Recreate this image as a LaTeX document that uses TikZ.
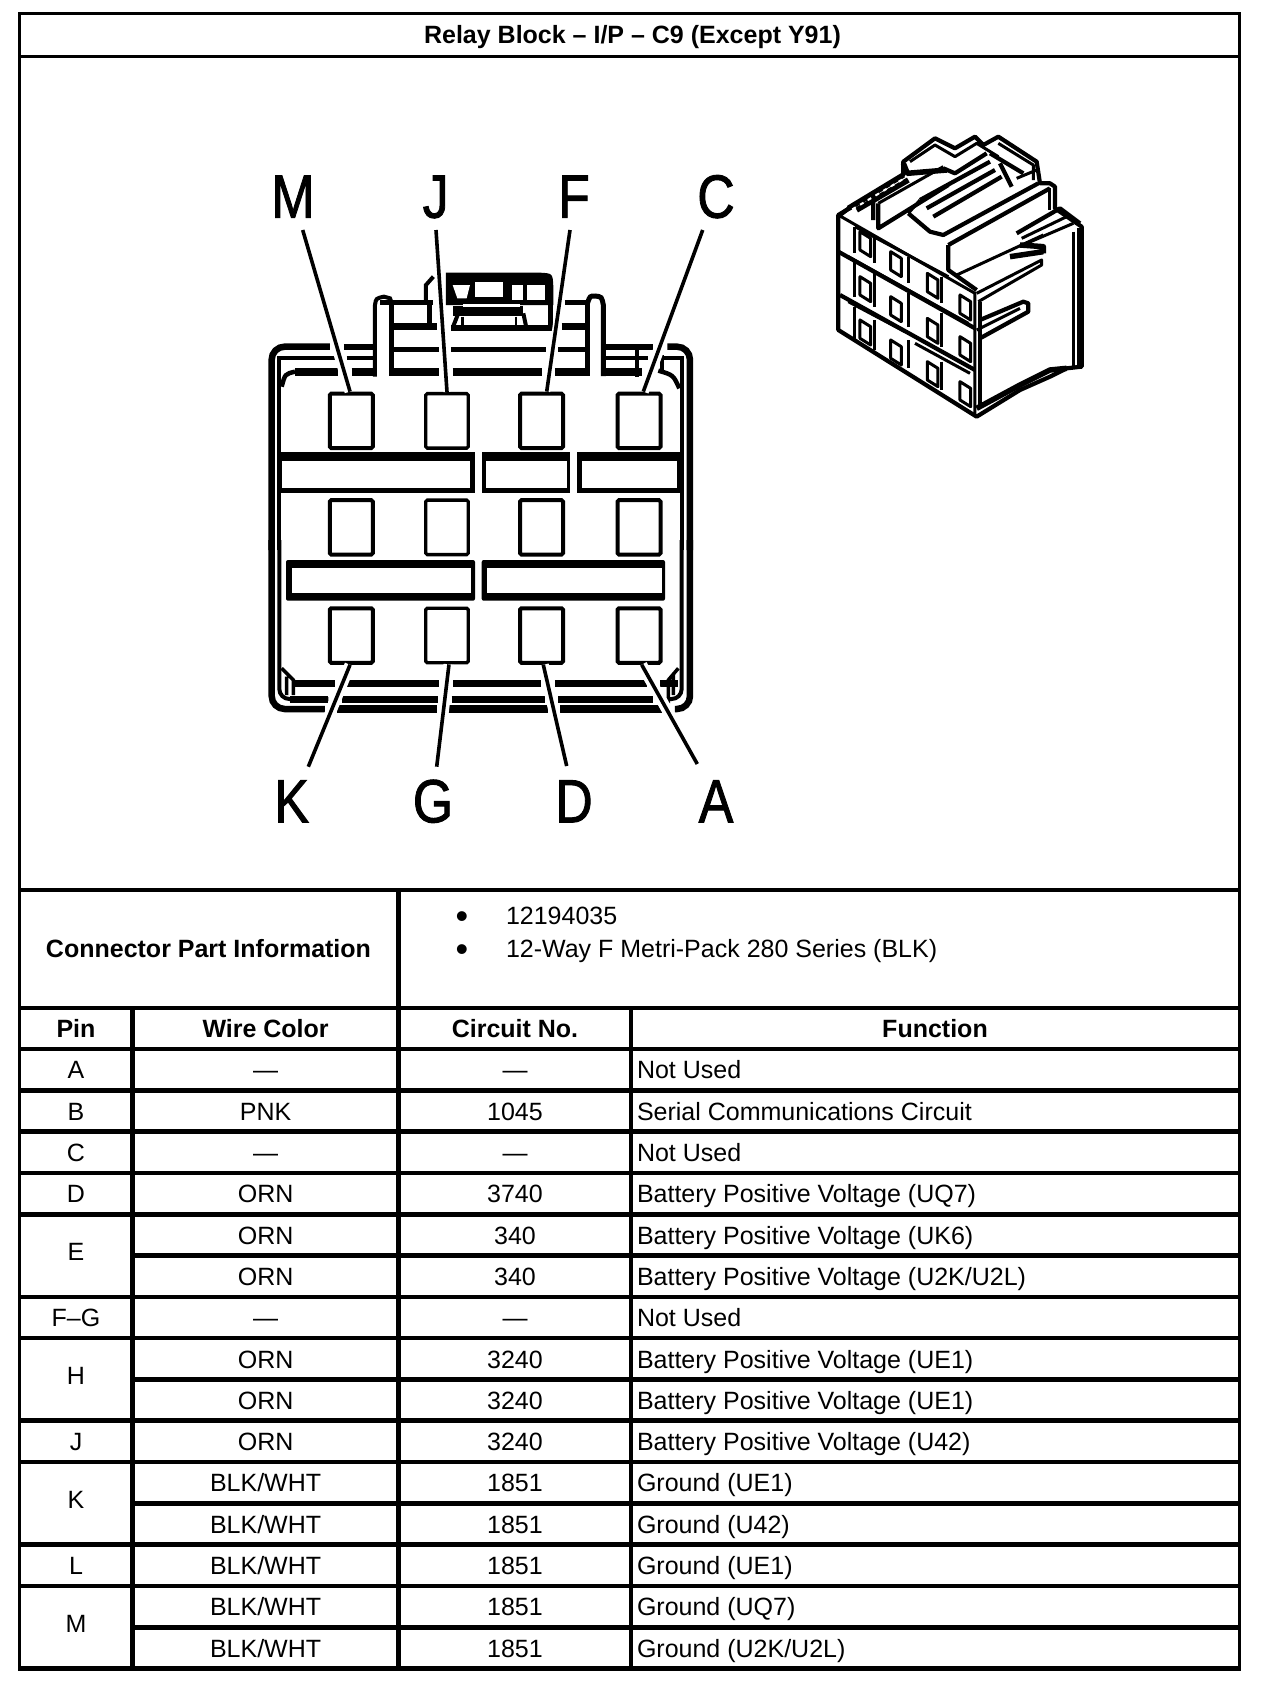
\documentclass[tikz,border=0pt]{standalone}
\usepackage{fontspec}
\setmainfont{Liberation Sans}
\newfontfamily\bigfont[FakeBold=1.6]{Liberation Sans}
\newcommand\bodyfont{\fontsize{25}{28}\selectfont}
\tikzset{
  tline/.style={line width=4.6pt,black},
  cell/.style={anchor=base,inner sep=0pt,outer sep=0pt,font=\bodyfont},
  lcell/.style={anchor=base west,inner sep=0pt,outer sep=0pt,font=\bodyfont},
  hcell/.style={anchor=base,inner sep=0pt,outer sep=0pt,font=\bodyfont\bfseries},
  biglabel/.style={anchor=base,inner sep=0pt,transform shape,xscale=.85,font=\bigfont\fontsize{61}{64}\selectfont},
  pinbox/.style={draw,line width=4pt,fill=white,rounded corners=1.5pt,inner sep=0pt,minimum width=43pt,minimum height=54.5pt},
  leader/.style={line width=3.6pt},
  halo/.style={line width=11pt,white},
  iso/.style={line width=3pt,line join=round},
  isoheavy/.style={line width=4.2pt,line join=round},
  isodark/.style={line width=5.5pt,line join=round},
}
\newcommand\rowtxt[4]{%
  \pgfmathsetmacro\ry{1049+41.3*(#1-.5)+9.3}
  \node[cell] (w#1) at (265.6,\ry) {#2};
  \node[cell] (c#1) at (515,\ry) {#3};
  \node[lcell] (f#1) at (637,\ry) {#4};
}
\newcommand\pintxt[4]{%
  \pgfmathsetmacro\ry{1049+41.3*(#2-.5)+9.3+#4}
  \node[cell] (pt#3) at (76,\ry) {#1};
}
\begin{document}
\begin{tikzpicture}[x=1pt,y=-1pt]
\useasboundingbox (0,0) rectangle (1264,1690);
\fill[white] (0,0) rectangle (1264,1690);
% frame
\draw[line width=3pt] (19.5,13.5) rectangle (1239.5,1668.5);
\draw[line width=3pt] (19.5,56.5) -- (1239.5,56.5);
\draw[tline] (18,890) -- (1241,890);
\draw[tline] (18,1008) -- (1241,1008);
\draw[tline] (18,1049) -- (1241,1049);
\foreach \i in {1,2,3,4,6,7,9,10,12,13}{
  \pgfmathsetmacro\yy{1049+41.3*\i}
  \draw[tline] (18,\yy) -- (1241,\yy);
}
\foreach \i in {5,8,11,14}{
  \pgfmathsetmacro\yy{1049+41.3*\i}
  \draw[tline] (132.5,\yy) -- (1241,\yy);
}
\draw[tline] (18,1668.5) -- (1241,1668.5);
\draw[tline] (132.5,1008) -- (132.5,1668.5);
\draw[tline] (398.7,890) -- (398.7,1668.5);
\draw[tline] (631,1008) -- (631,1668.5);
% title and headers
\node[hcell] (title) at (632.5,43.2) {Relay Block – I/P – C9 (Except Y91)};
\node[hcell] (cpi) at (208.5,957.3) {Connector Part Information};
\node[font=\fontsize{36}{36}\selectfont,anchor=base,inner sep=0pt] (b1) at (462,928) {•};
\node[font=\fontsize{36}{36}\selectfont,anchor=base,inner sep=0pt] (b2) at (462,961) {•};
\node[lcell] (pn) at (506,924.3) {12194035};
\node[lcell] (pd) at (506,957.3) {12-Way F Metri-Pack 280 Series (BLK)};
\node[hcell] (hp) at (76,1037.7) {Pin};
\node[hcell] (hw) at (265.6,1037.7) {Wire Color};
\node[hcell] (hc) at (515,1037.7) {Circuit No.};
\node[hcell] (hf) at (935,1037.7) {Function};
% pin column
\pintxt{A}{1}{a}{0}\pintxt{B}{2}{b}{0}\pintxt{C}{3}{c}{0}\pintxt{D}{4}{d}{0}
\pintxt{E}{5.5}{e}{-4.3}\pintxt{F–G}{7}{f}{0}\pintxt{H}{8.5}{h}{-4.3}\pintxt{J}{10}{j}{0}
\pintxt{K}{11.5}{k}{-4.3}\pintxt{L}{13}{l}{0}\pintxt{M}{14.5}{m}{-4.3}
% rows
\rowtxt{1}{—}{—}{Not Used}
\rowtxt{2}{PNK}{1045}{Serial Communications Circuit}
\rowtxt{3}{—}{—}{Not Used}
\rowtxt{4}{ORN}{3740}{Battery Positive Voltage (UQ7)}
\rowtxt{5}{ORN}{340}{Battery Positive Voltage (UK6)}
\rowtxt{6}{ORN}{340}{Battery Positive Voltage (U2K/U2L)}
\rowtxt{7}{—}{—}{Not Used}
\rowtxt{8}{ORN}{3240}{Battery Positive Voltage (UE1)}
\rowtxt{9}{ORN}{3240}{Battery Positive Voltage (UE1)}
\rowtxt{10}{ORN}{3240}{Battery Positive Voltage (U42)}
\rowtxt{11}{BLK/WHT}{1851}{Ground (UE1)}
\rowtxt{12}{BLK/WHT}{1851}{Ground (U42)}
\rowtxt{13}{BLK/WHT}{1851}{Ground (UE1)}
\rowtxt{14}{BLK/WHT}{1851}{Ground (UQ7)}
\rowtxt{15}{BLK/WHT}{1851}{Ground (U2K/U2L)}
% housing, upper part (zoom coordinates)
\begin{scope}[x=.33333pt,y=-.33333pt,shift={(720,450)}]
  \draw[line width=6.5pt,rounded corners=13pt] (270,590)--(95,590)--(95,1200);
  \draw[line width=6.5pt,rounded corners=13pt] (1282,590)--(1350,590)--(1350,1200);
  \draw[line width=6pt] (312,590)--(400,590) (1095,590)--(1240,590);
  \draw[line width=4pt] (118,1200)--(118,625)--(285,625) (320,625)--(405,625);
  \draw[line width=4pt] (1325,1200)--(1325,625)--(1270,625) (1098,625)--(1225,625);
  \draw[line width=4pt] (1190,600)--(1190,680) (1265,615)--(1265,660);
  \draw[line width=8pt] (335,667)--(405,667) (165,667)--(295,667) (1095,667)--(1205,667);
  \draw[line width=4.5pt] (165,665) .. controls (135,672) .. (125,710);
  \draw[line width=4.5pt] (1255,662) .. controls (1300,675) .. (1318,715);
  % left tab
  \draw[line width=4pt] (405,680)--(405,465) .. controls (408,445) .. (432,440) -- (450,445) -- (455,458);
  \draw[line width=4.5pt] (455,458)--(455,678);
  \draw[line width=5pt] (420,458)--(580,458);
  \draw[line width=7pt] (460,530)--(590,530);
  \draw[line width=5pt] (460,597)--(597,597);
  \draw[line width=8pt] (450,667)--(597,667);
  \draw[line width=5pt] (570,458)--(570,530);
  \draw[line width=4pt] (580,380)--(558,405)--(558,455);
  % right tab
  \draw[line width=5pt] (975,458)--(1045,458);
  \draw[line width=4.5pt] (1043,458)--(1043,678);
  \draw[line width=5pt] (1043,458) .. controls (1050,438) .. (1065,438) .. controls (1085,440) .. (1090,465) -- (1090,678);
  \draw[line width=7pt] (965,530)--(1035,530);
  \draw[line width=5pt] (955,597)--(1035,597);
  \draw[line width=8pt] (945,667)--(1045,667);
  % centre
  \draw[line width=5pt] (633,597)--(918,597);
  \draw[line width=8pt] (638,667)--(905,667);
  \fill (618,368)--(900,368) .. controls (938,370) .. (940,410) -- (940,465) -- (618,465) -- cycle;
  \fill[white] (638,405)--(690,405)--(680,445)--(652,445)--cycle;
  \fill[white] (705,395) rectangle (790,440);
  \fill[white] (815,405) rectangle (850,450);
  \fill[white] (860,405)--(915,405)--(915,450)--(860,450)--cycle;
  \fill (640,468) rectangle (850,498);
  \fill[white] (670,462) rectangle (840,470);
  \fill (633,525) rectangle (940,542);
  \fill (925,460) rectangle (940,530);
  \draw[line width=4pt] (655,490)--(640,528);
  \draw[line width=4pt] (850,490)--(858,528);
  \draw[line width=2.5pt] (668,500)--(668,525) (828,500)--(828,525);
\end{scope}
% housing, lower part
\begin{scope}[x=.33333pt,y=-.33333pt,shift={(720,1620)}]
  \draw[line width=6.5pt,rounded corners=13pt] (95,0)--(95,507)--(255,507);
  \draw[line width=6.5pt,rounded corners=13pt] (1350,0)--(1350,507)--(1305,507);
  \draw[line width=7.5pt] (290,507)--(592,507) (625,507)--(925,507) (960,507)--(1265,507);
  \draw[line width=4pt,rounded corners=10pt] (118,0)--(118,477)--(265,477);
  \draw[line width=4pt,rounded corners=10pt] (1325,0)--(1325,477)--(1280,477);
  \draw[line width=7pt] (305,477)--(595,477) (635,477)--(915,477) (955,477)--(1240,477) (150,477)--(265,477);
  \draw[line width=7pt] (160,431)--(285,431) (320,431)--(597,431) (640,431)--(903,431) (945,431)--(1220,431) (1260,431)--(1315,431);
  \draw[line width=3.5pt] (125,385)--(160,420)--(160,465) (140,410)--(140,465);
  \draw[line width=3.5pt] (1315,385)--(1285,420)--(1285,490) (1300,400)--(1300,465);
\end{scope}
% ribs between the cavities
\fill (279,451.7) rectangle (475,493.3);
\fill[white] (281.7,460.7) rectangle (470,488.3);
\fill (481.7,451.7) rectangle (570,493.3);
\fill[white] (486,460.7) rectangle (566.7,488.3);
\fill (577.3,451.7) rectangle (681,493.3);
\fill[white] (581.7,460.7) rectangle (677.3,488.3);
\fill[rounded corners=2pt] (286,560) rectangle (475,600.7);
\fill[white] (291.7,568.3) rectangle (470.7,593.3);
\fill[rounded corners=2pt] (481.7,560) rectangle (665,600.7);
\fill[white] (486.7,568.3) rectangle (661.7,593.3);
% cavities
\node[pinbox] (pM) at (351.25,420.85) {};
\node[pinbox,line width=3.3pt,minimum width=42.5pt] (pJ) at (447,420.85) {};
\node[pinbox] (pF) at (541.5,420.85) {};
\node[pinbox] (pC) at (639,420.85) {};
\node[pinbox] (p2a) at (351.25,527.35) {};
\node[pinbox,line width=3.3pt,minimum width=42.5pt] (p2b) at (447,527.35) {};
\node[pinbox] (p2c) at (541.5,527.35) {};
\node[pinbox] (p2d) at (639,527.35) {};
\node[pinbox] (pK) at (351.25,635.5) {};
\node[pinbox,line width=3.3pt,minimum width=42.5pt] (pG) at (447,635.5) {};
\node[pinbox] (pD) at (541.5,635.5) {};
\node[pinbox] (pA) at (639,635.5) {};
% labels
\node[biglabel] (lM) at (293,217.7) {M};
\node[biglabel] (lJ) at (435.7,217.7) {J};
\node[biglabel] (lF) at (574,217.7) {F};
\node[biglabel] (lC) at (716,217.7) {C};
\node[biglabel] (lK) at (291.7,822.3) {K};
\node[biglabel] (lG) at (433,822.3) {G};
\node[biglabel] (lD) at (574,822.3) {D};
\node[biglabel] (lA) at (716,822.3) {A};
% leaders
\coordinate (cM) at (302.7,230);
\coordinate (cJ) at (436,230);
\coordinate (cF) at (570,230);
\coordinate (cC) at (702.7,230);
\coordinate (cK) at (308.3,766.7);
\coordinate (cG) at (436.7,766.7);
\coordinate (cD) at (566.7,766);
\coordinate (cA) at (697.3,764);
\draw[halo,line width=7pt] (cJ) -- (pJ.north);
\draw[halo,line width=7pt] (cF) -- ([xshift=5.2pt]pF.north);
\draw[halo] (cM) -- ([xshift=-1.2pt]pM.north);
\draw[halo] (cC) -- ([xshift=4.3pt]pC.north);
\draw[halo] (cK) -- ([xshift=-1.2pt]pK.south);
\draw[halo] (cG) -- ([xshift=2pt]pG.south);
\draw[halo] (cD) -- ([xshift=1.8pt]pD.south);
\draw[halo] (cA) -- ([xshift=2.7pt]pA.south);
\draw[leader] (cM) -- ([xshift=-1.2pt]pM.north);
\draw[leader] (cJ) -- (pJ.north);
\draw[leader] (cF) -- ([xshift=5.2pt]pF.north);
\draw[leader] (cC) -- ([xshift=4.3pt]pC.north);
\draw[leader] (cK) -- ([xshift=-1.2pt]pK.south);
\draw[leader] (cG) -- ([xshift=2pt]pG.south);
\draw[leader] (cD) -- ([xshift=1.8pt]pD.south);
\draw[leader] (cA) -- ([xshift=2.7pt]pA.south);
% isometric view
\begin{scope}[x=.33333pt,y=-.33333pt,shift={(2460,360)}]
  \filldraw[fill=white,isoheavy] (55,285)--(170,215)--(250,165)--(250,125)--(345,55)--(405,85)--(465,50)--(490,75)--(535,50)--(650,125)--(660,190)--(690,190)--(705,200)--(705,265)--(785,320)--(785,740)--(740,745)--(690,770)--(600,810)--(470,890)--(55,630)--cycle;
  % front bands
  \draw[iso] (55,285)--(465,520)--(465,890);
  \draw[isoheavy] (480,545)--(480,860);
  \draw[isoheavy] (55,395)--(465,625);
  \draw[iso] (85,410)--(445,610);
  \draw[isoheavy] (60,525)--(465,750);
  \draw[iso] (85,545)--(255,635);
  \draw[iso] (285,670)--(450,760);
  % front dividers
  \draw[iso] (105,320)--(105,400) (165,350)--(165,430) (265,410)--(265,490) (365,470)--(365,550);
  \draw[iso] (105,425)--(105,530) (165,460)--(165,560) (265,520)--(265,620) (365,580)--(365,680);
  \draw[iso] (105,560)--(105,660) (165,600)--(165,690) (265,660)--(265,745) (365,725)--(365,810);
  % windows
  \foreach \xa/\ya in {120/335,212/395,322/460,420/525,120/470,212/530,322/595,420/650,120/600,212/660,322/725,420/785}{
    \draw[iso] (\xa,\ya)--++(32,20)--++(0,55)--++(-32,-20)--cycle;
  }
  % right face
  \draw[iso] (760,335)--(760,740);
  \draw[isodark] (778,325)--(778,740);
  \draw[isodark] (470,865)--(600,795)--(690,750)--(740,745);
  \draw[isoheavy] (480,600)--(610,545)--(625,550)--(625,575)--(480,655);
  \draw[iso] (470,630)--(600,565);
  \draw[iso] (470,520)--(665,420)--(665,435)--(475,545);
  % upper shroud
  \draw[isoheavy] (385,375)--(385,450)--(470,510);
  \draw[isoheavy] (385,375)--(690,205);
  \draw[iso] (410,465)--(670,345);
  \draw[iso] (690,205)--(690,270);
  \draw[isoheavy] (590,340)--(720,265)--(780,310);
  \draw[iso] (605,355)--(740,290);
  \draw[iso] (620,370)--(760,310);
  \draw[isodark] (570,410)--(670,395) (600,375)--(670,380)--(670,400);
  % top ribs and hatched band
  \draw[isoheavy] (175,250)--(175,325)--(385,195);
  \draw[isoheavy] (60,285)--(100,255)--(160,225)--(160,300);
  \draw[iso] (105,320)--(385,470);
  \draw[isodark] (85,265)--(250,165);
  \draw[isodark] (110,270)--(265,180);
  \draw[white,line width=2pt,dash pattern=on 4pt off 5pt] (97,268)--(258,172);
  \draw[isodark] (250,130)--(262,160)--(380,150);
  \draw[iso] (175,250)--(370,140);
  \draw[isoheavy] (300,240)--(510,125);
  \draw[isoheavy] (320,265)--(525,150);
  \draw[isoheavy] (340,290)--(545,170);
  \draw[isoheavy] (265,280)--(330,335)--(370,345)--(655,190);
  \draw[iso] (265,280)--(300,240);
  \draw[iso] (270,125)--(345,75)--(405,110)--(470,70)--(535,110);
  \draw[isoheavy] (370,145)--(405,160)--(500,100);
  \draw[iso] (535,70)--(640,135)--(640,180);
  \draw[isoheavy] (510,100)--(610,160);
  \draw[isoheavy] (540,130)--(575,200);
  \draw[iso] (590,175)--(650,150);
\end{scope}
\end{tikzpicture}
\end{document}
